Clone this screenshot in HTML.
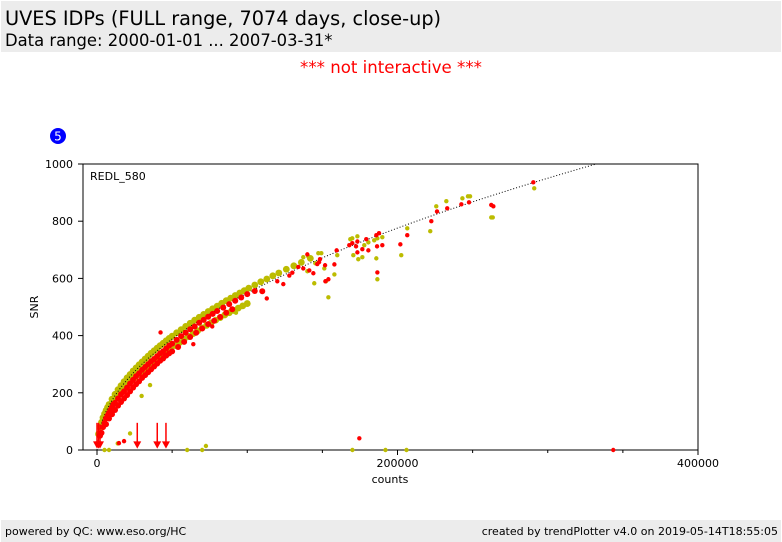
<!DOCTYPE html>
<html><head><meta charset="utf-8"><style>
body{margin:0;width:782px;height:542px;background:#fff;font-family:"DejaVu Sans","Liberation Sans",sans-serif;position:relative;overflow:hidden}
.hdr{position:absolute;left:1px;top:1px;width:780px;height:51px;background:#ececec}
.t1{position:absolute;left:4px;top:6px;font-size:19.3px;color:#000}
.t2{position:absolute;left:4px;top:30px;font-size:16.4px;color:#000}
.ni{position:absolute;left:0;width:782px;top:58px;text-align:center;color:#f00;font-size:16.6px}
.ftr{position:absolute;left:1px;top:520px;width:780px;height:22px;background:#ececec;font-size:11px}
</style></head><body>
<div class="hdr">
<div class="t1">UVES IDPs (FULL range, 7074 days, close-up)</div>
<div class="t2">Data range: 2000-01-01 ... 2007-03-31*</div>
</div>
<div class="ni">*** not interactive ***</div>
<svg id="chart" width="782" height="542" style="position:absolute;left:0;top:0;font-family:'DejaVu Sans','Liberation Sans',sans-serif"></svg>
<div class="ftr">
<span style="position:absolute;left:4px;top:5px">powered by QC: www.eso.org/HC</span>
<span style="position:absolute;right:3px;top:5px">created by trendPlotter v4.0 on 2019-05-14T18:55:05</span>
</div>
<script>
const xTicks=[0,200000,400000];
const xMinor=[50000,100000,150000,250000,300000,350000];
const yTicks=[0,200,400,600,800,1000];
const fitK=[1.735];
const yelC=[1000,2000,3000,4000,5000,6000,7000,8000,10000,12000,14000,16000,18000,20000,22000,24000,26000,28000,30000,32000,34000,36000,38000,40000,42000,44000,46000,48000,50000,53000,56000,59000,62000,65000,68000,71000,74000,77000,80000,83000,86000,89000,92000,95000,98000,101000,105000,109000,113000,117000,121000,126000,131000,136000,142000,
291000,263400,262400,248300,246900,243200,232500,225800,221800,206500,202500,189900,186600,185900,186600,184500,180600,177900,176600,173900,173300,170600,169900,168600,159900,158000,154000,152400,151300,149300,147300,145300,144600,140000,137300,140600,
35300,29700,92500,22000,72500,13800,170000,192000,206000,5000,8000,60000,70000,
3000,5000,7000,9000,11000,13000,15000,17000,19000,21000,23000,25000,27000,29000,31000,33000,35000,37000,39000,41000,43000,45000,47000,49000,52000,55000,58000,61000,64000,67000,70000,73000,76000,79000,82000,85000,88000,91000,94000,97000,100000];
const yelS=[56,80,97,113,126,138,149,159,178,195,211,225,239,252,264,276,287,298,308,318,328,338,347,356,365,373,382,390,398,410,421,432,443,454,464,474,484,494,503,513,522,531,540,549,557,566,577,588,598,609,619,632,644,656,670,
915,813,813,887,887,880,870,852,765,775,681,744,740,670,597,733,726,716,674,667,747,681,740,737,681,614,534,590,635,688,688,653,583,625,674,677,
227,189,480,58,14,23,0,0,0,0,0,0,0,
88,115,135,152,168,182,195,208,220,232,243,253,263,273,282,291,300,308,316,325,333,340,348,355,365,376,387,397,407,417,427,436,445,454,463,472,480,488,496,504,512];
const redC=[2000,3000,4000,5000,6000,7000,8000,9000,10000,11000,12000,14000,16000,18000,20000,22000,24000,26000,28000,30000,32000,34000,36000,38000,40000,42000,44000,46000,48000,50000,53000,56000,59000,62000,65000,68000,71000,74000,77000,80000,84000,88000,92000,96000,100000,105000,110000,113000,120000,124000,128000,130000,134000,
290400,262400,263800,247600,242500,233100,226300,222500,206500,201900,189900,187700,185900,186400,186600,180600,179200,176600,173300,173300,172400,169900,167900,174600,343600,158000,154000,152000,151800,148400,147800,146600,144000,141300,140000,137300,159500,
42300,64100,76700,18000,14600,30000,45000,
6000,8000,10000,12000,14000,16000,18000,20000,22000,24000,26000,28000,30000,32000,34000,36000,38000,40000,42000,44000,46000,48000,50000,54000,58000,62000,66000,70000,74000,78000,82000,86000,90000];
const redS=[50,60,80,95,110,120,130,140,150,160,165,180,195,205,218,232,245,258,268,280,290,300,310,318,328,338,345,355,365,372,385,398,410,422,432,445,455,466,476,486,498,510,522,533,545,556,555,530,590,580,610,620,640,
936,857,852,866,859,845,834,800,751,719,716,758,751,712,621,698,737,702,729,691,712,723,716,41,0,649,597,590,646,667,657,650,618,628,684,635,698,
411,370,432,31,24,250,330,
90,110,125,140,155,168,180,192,205,218,230,240,252,262,272,282,292,302,312,320,330,338,345,360,378,395,410,425,440,452,465,480,492];
const arrowC=[0,1000,2000,26800,40100,45900];
const arrowTop=[95,95,90,95,95,95];
const X0=97,XW=601/400000,Y0=450,YH=286/1000;
const sx=c=>X0+c*XW, sy=v=>Y0-v*YH;
const svg=document.getElementById('chart');const NS='http://www.w3.org/2000/svg';
function mk(t,a){const e=document.createElementNS(NS,t);for(const k in a)e.setAttribute(k,a[k]);svg.appendChild(e);return e;}
const cp=mk('clipPath',{id:'cp'});const cr=document.createElementNS(NS,'rect');cr.setAttribute('x',83);cr.setAttribute('y',164);cr.setAttribute('width',615);cr.setAttribute('height',290);cp.appendChild(cr);
let b=mk('circle',{cx:58,cy:136,r:8,fill:'#0000ff'});


let bt=mk('text',{x:58,y:140.5,'text-anchor':'middle','font-size':12,fill:'#fff'});bt.textContent='5';


let fr=mk('rect',{x:83,y:164,width:615,height:286,fill:'none',stroke:'#000','stroke-width':1});


let lb=mk('text',{x:90,y:180,'font-size':11});lb.textContent='REDL_580';


xTicks.forEach(v=>{let l=mk('line',{x1:sx(v),x2:sx(v),y1:450,y2:455,stroke:'#000'});


let t=mk('text',{x:sx(v),y:467,'text-anchor':'middle','font-size':11});t.textContent=v;

});
xMinor.forEach(v=>{let l=mk('line',{x1:sx(v),x2:sx(v),y1:450,y2:453,stroke:'#000'});

});
yTicks.forEach(v=>{let l=mk('line',{x1:78,x2:83,y1:sy(v),y2:sy(v),stroke:'#000'});


let t=mk('text',{x:73,y:sy(v)+4,'text-anchor':'end','font-size':11});t.textContent=v;

});
let xt=mk('text',{x:390,y:483,'text-anchor':'middle','font-size':11});xt.textContent='counts';


let yt=mk('text',{x:38,y:307,'text-anchor':'middle','font-size':11,transform:'rotate(-90 38 307)'});yt.textContent='SNR';


const g=mk('g',{'clip-path':'url(#cp)'});
function add(t,a){const e=document.createElementNS(NS,t);for(const k in a)e.setAttribute(k,a[k]);g.appendChild(e);return e;}
yelC.forEach((c,i)=>{let d=add('circle',{cx:sx(c),cy:sy(yelS[i]),r:(i<55||i>=104)?3.4:2.2,fill:'#bcbc00'});

});
let pts=[];for(let c=0;c<=400000;c+=2000)pts.push(sx(c)+','+sy(fitK[0]*Math.sqrt(c)));
let fl=add('polyline',{points:pts.join(' '),fill:'none',stroke:'#000','stroke-width':1,'stroke-dasharray':'1,2'});


redC.forEach((c,i)=>{let d=add('circle',{cx:sx(c),cy:sy(redS[i]),r:(i<47||i>=97)?3:2.2,fill:'#ff0000'});

});
arrowC.forEach((c,i)=>{const x=sx(c);
let a=add('line',{x1:x,x2:x,y1:sy(arrowTop[i]),y2:sy(20),stroke:'#f00','stroke-width':1.5});


let h=add('polygon',{points:`${x-4},${sy(30)} ${x+4},${sy(30)} ${x},${sy(5)}`,fill:'#f00'});

});
</script>
</body></html>
